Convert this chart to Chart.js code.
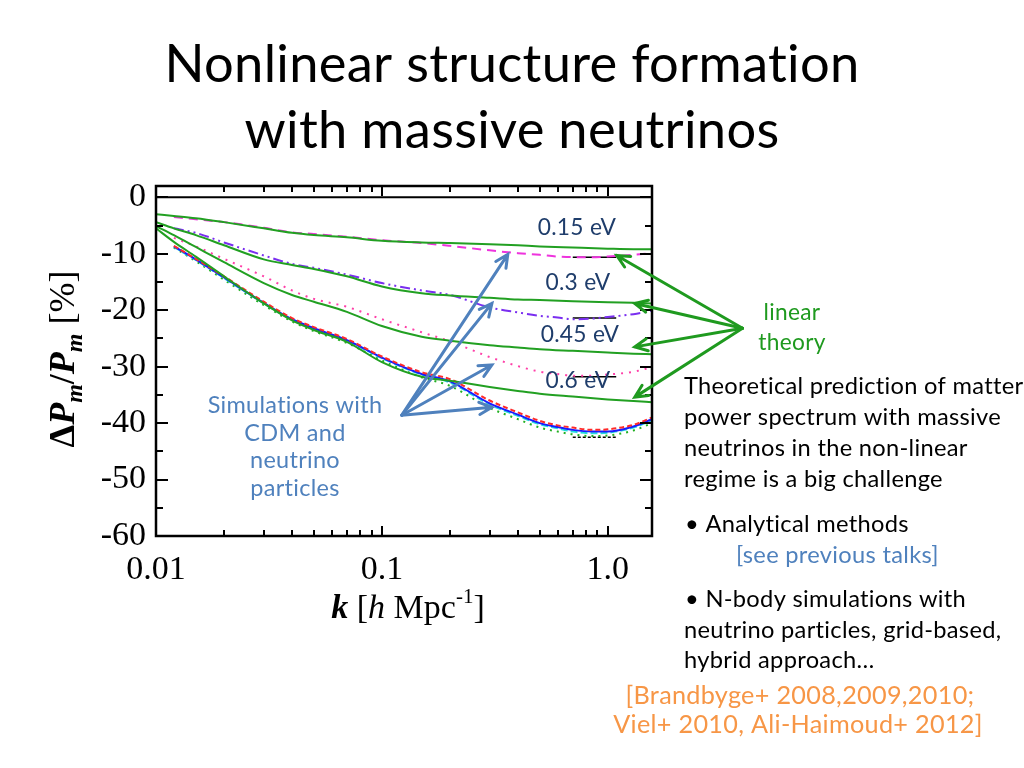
<!DOCTYPE html>
<html>
<head>
<meta charset="utf-8">
<title>Nonlinear structure formation with massive neutrinos</title>
<script src="https://cdn.jsdelivr.net/npm/chart.js"></script>
<style>
  html, body { margin: 0; padding: 0; background: #fff; }
  #c { display: block; }
</style>
</head>
<body>
<canvas id="c" width="1024" height="768"></canvas>
<script>
/* global Chart */

// k values for the linear theory curves
const kLin = [0.01, 0.012, 0.015, 0.02, 0.03, 0.04, 0.05, 0.07, 0.1, 0.15, 0.2, 0.3, 0.4, 0.5, 0.7, 1.0, 1.3, 1.57];
const lin015 = [-3.0, -3.3, -3.7, -4.4, -5.5, -6.3, -6.7, -7.1, -7.7, -8.0, -8.1, -8.3, -8.5, -8.7, -8.9, -9.1, -9.2, -9.2];
const lin03 = [-4.4, -5.5, -6.7, -8.5, -11.0, -12.0, -12.7, -14.0, -15.8, -17.0, -17.4, -17.8, -18.1, -18.2, -18.4, -18.6, -18.7, -18.8];
const lin045 = [-5.1, -6.7, -8.8, -11.5, -15.2, -17.3, -18.5, -20.3, -22.8, -24.7, -25.4, -26.2, -26.6, -26.9, -27.2, -27.5, -27.7, -27.8];
const lin06 = [-5.5, -7.9, -10.5, -14.0, -18.8, -21.8, -23.5, -25.6, -29.2, -31.8, -32.5, -33.6, -34.3, -34.8, -35.3, -35.8, -36.1, -36.3];

// k values for the simulations
const kSim = [0.012, 0.015, 0.02, 0.03, 0.04, 0.05, 0.07, 0.1, 0.15, 0.2, 0.3, 0.4, 0.5, 0.6, 0.7, 0.85, 1.0, 1.3, 1.57];
const sim015 = [-3.5, -3.9, -4.4, -5.4, -6.2, -6.5, -7.0, -7.6, -8.1, -8.6, -9.4, -9.9, -10.2, -10.5, -10.6, -10.6, -10.5, -10.2, -9.9];
const sim03 = [-5.5, -6.3, -8.0, -10.3, -11.8, -12.5, -13.7, -15.2, -16.5, -17.3, -19.5, -20.4, -21.0, -21.3, -21.6, -21.5, -21.2, -20.7, -20.1];
const sim045 = [-7.2, -8.7, -10.9, -14.0, -16.5, -18.0, -19.4, -21.6, -23.9, -25.5, -28.3, -29.9, -30.9, -31.3, -31.6, -31.6, -31.4, -30.9, -30.1];
const sim06Red = [-8.6, -10.9, -14.0, -18.5, -21.4, -23.0, -25.1, -28.2, -31.0, -32.2, -36.0, -38.1, -39.6, -40.4, -40.8, -41.2, -41.1, -40.3, -39.0];
const sim06Blue = [-8.7, -11.0, -14.2, -18.7, -21.6, -23.2, -25.3, -28.4, -31.3, -32.6, -36.5, -38.5, -40.0, -40.7, -41.2, -41.5, -41.5, -40.6, -39.3];
const sim06Cyan = [-8.8, -11.1, -14.3, -18.8, -21.7, -23.3, -25.4, -28.5, -31.4, -32.8, -36.7, -38.7, -40.2, -40.9, -41.5, -41.8, -41.7, -40.8, -39.5];
const sim06Green = [-8.9, -11.3, -14.6, -19.1, -22.0, -23.7, -25.8, -28.9, -31.9, -33.4, -37.3, -39.3, -40.8, -41.5, -42.0, -42.3, -42.2, -41.3, -40.0];

// short black reference marks near k ~ 1
const kSeg = [0.7, 1.09];
const segLevels = [-10.6, -21.4, -31.8, -42.5];

// ticks
const xTickValues = [0.01, 0.1, 1.0];
const xTickLabels = ['0.01', '0.1', '1.0'];
const xMinorTicks = [0.02, 0.03, 0.04, 0.05, 0.06, 0.07, 0.08, 0.09, 0.2, 0.3, 0.4, 0.5, 0.6, 0.7, 0.8, 0.9];
const yTickValues = [0, -10, -20, -30, -40, -50, -60];
const yTickLabels = ['0', '-10', '-20', '-30', '-40', '-50', '-60'];
const yMinorTicks = [-5, -15, -25, -35, -45, -55];

// annotation arrows, in data coordinates [k, value]
const simArrowFrom = [0.1225, -38.6];
const simArrowTo = [[0.361, -10.1], [0.307, -18.8], [0.307, -29.7], [0.307, -37.2]];
const linArrowFrom = [3.95, -23.2];
const linArrowTo = [[1.096, -10.3], [1.317, -18.8], [1.317, -26.5], [1.317, -35.4]];

const pts = (xs, ys) => ys.map((y, i) => ({ x: xs[i], y: y }));

const GREEN = '#22a022';
const SANS = 'Lato';
const SERIF = '"Liberation Serif"';

function line(label, xs, ys, color, dash, width) {
    return {
        label: label,
        data: pts(xs, ys),
        borderColor: color,
        borderWidth: width || 2,
        borderDash: dash || [],
        pointRadius: 0,
        fill: false,
        cubicInterpolationMode: 'monotone'
    };
}

const datasets = [
    line('linear 0.15 eV', kLin, lin015, GREEN),
    line('linear 0.3 eV', kLin, lin03, GREEN),
    line('linear 0.45 eV', kLin, lin045, GREEN),
    line('linear 0.6 eV', kLin, lin06, GREEN),
    line('sim 0.15 eV', kSim, sim015, '#ee33dd', [9, 6]),
    line('sim 0.3 eV', kSim, sim03, '#7a2ef0', [10, 4, 2, 4, 2, 4]),
    line('sim 0.45 eV', kSim, sim045, '#ff3fa8', [2, 6]),
    line('sim 0.6 eV red', kSim, sim06Red, '#ff2a2a', [5, 3]),
    line('sim 0.6 eV blue', kSim, sim06Blue, '#1a1aff'),
    line('sim 0.6 eV cyan', kSim, sim06Cyan, '#22dddd', [7, 3]),
    line('sim 0.6 eV green', kSim, sim06Green, '#22b022', [2, 5])
];
segLevels.forEach((v, i) => {
    datasets.push(line('ref ' + i, kSeg, [v, v], '#000', i === 3 ? [3, 2] : [], 1.5));
});

function fitSize(ctx, text, family, width, style) {
    ctx.font = (style || '') + ' 100px ' + family;
    return 100 * width / ctx.measureText(text).width;
}

function drawArrow(ctx, x1, y1, x2, y2, color) {
    const a = Math.atan2(y2 - y1, x2 - x1);
    const h = 14;
    ctx.strokeStyle = color;
    ctx.lineWidth = 3;
    ctx.lineCap = 'round';
    ctx.beginPath();
    ctx.moveTo(x1, y1);
    ctx.lineTo(x2, y2);
    ctx.moveTo(x2 - h * Math.cos(a - 0.45), y2 - h * Math.sin(a - 0.45));
    ctx.lineTo(x2, y2);
    ctx.lineTo(x2 - h * Math.cos(a + 0.45), y2 - h * Math.sin(a + 0.45));
    ctx.stroke();
}

// draws a run of text pieces with different fonts, starting at x
function drawRich(ctx, parts, x, y) {
    parts.forEach(p => {
        ctx.font = p.f;
        ctx.fillText(p.t, x, y + (p.dy || 0));
        x += ctx.measureText(p.t).width;
    });
    return x;
}
function richWidth(ctx, parts) {
    let w = 0;
    parts.forEach(p => { ctx.font = p.f; w += ctx.measureText(p.t).width; });
    return w;
}

// frame, inner ticks and zero line
const framePlugin = {
    id: 'frame',
    afterDatasetsDraw(chart) {
        const { ctx, chartArea: a, scales: { x, y } } = chart;
        ctx.save();
        ctx.strokeStyle = '#000';
        ctx.lineCap = 'butt';
        ctx.setLineDash([]);

        ctx.lineWidth = 2;
        const xt = (v, len) => {
            const px = Math.round(x.getPixelForValue(v));
            ctx.beginPath();
            ctx.moveTo(px, a.bottom); ctx.lineTo(px, a.bottom - len);
            ctx.moveTo(px, a.top); ctx.lineTo(px, a.top + len);
            ctx.stroke();
        };
        xTickValues.forEach(v => xt(v, 10));
        xMinorTicks.forEach(v => xt(v, 6));
        const yt = (v, len) => {
            const py = Math.round(y.getPixelForValue(v));
            ctx.beginPath();
            ctx.moveTo(a.left, py); ctx.lineTo(a.left + len, py);
            ctx.moveTo(a.right, py); ctx.lineTo(a.right - len, py);
            ctx.stroke();
        };
        yTickValues.forEach(v => yt(v, 12));
        yMinorTicks.forEach(v => yt(v, 7));

        const y0 = y.getPixelForValue(0);
        ctx.beginPath();
        ctx.moveTo(a.left, y0);
        ctx.lineTo(a.right, y0);
        ctx.stroke();

        ctx.lineWidth = 2.5;
        ctx.strokeRect(a.left, a.top, a.right - a.left, a.bottom - a.top);
        ctx.restore();
    },
    afterDraw(chart) {
        const { ctx, scales: { x, y } } = chart;
        const P = p => [x.getPixelForValue(p[0]), y.getPixelForValue(p[1])];
        ctx.save();
        // a tiny letter spacing keeps Lato from drawing the "ti" ligature
        ctx.letterSpacing = '0.3px';

        // arrows
        const s0 = P(simArrowFrom);
        simArrowTo.forEach(t => { const e = P(t); drawArrow(ctx, s0[0], s0[1], e[0], e[1], '#4f81bd'); });
        const l0 = P(linArrowFrom);
        linArrowTo.forEach(t => { const e = P(t); drawArrow(ctx, l0[0], l0[1], e[0], e[1], '#1f9a1f'); });

        ctx.textBaseline = 'alphabetic';
        const put = (t, px, py, size, color, align) => {
            ctx.font = size.toFixed(2) + 'px ' + SANS;
            ctx.fillStyle = color;
            ctx.textAlign = align;
            ctx.fillText(t, px, py);
        };

        // slide title
        const titleSize = fitSize(ctx, 'Nonlinear structure formation', SANS, 691);
        put('Nonlinear structure formation', 512, 82, titleSize, '#000', 'center');
        put('with massive neutrinos', 512, 148, titleSize, '#000', 'center');

        // curve labels
        const evSize = fitSize(ctx, '0.15 eV', SANS, 77);
        put('0.15 eV', 577, 235, evSize, '#1f3d6b', 'center');
        put('0.3 eV', 578, 290, evSize, '#1f3d6b', 'center');
        put('0.45 eV', 580, 342, evSize, '#1f3d6b', 'center');
        put('0.6 eV', 578, 388, evSize, '#1f3d6b', 'center');

        const simSize = fitSize(ctx, 'Simulations with', SANS, 171);
        ['Simulations with', 'CDM and', 'neutrino', 'particles'].forEach((t, i) => {
            put(t, 295, 413 + i * 27.5, simSize, '#4f81bd', 'center');
        });

        const linSize = fitSize(ctx, 'theory', SANS, 66);
        put('linear', 792, 320, linSize, '#1f9a1f', 'center');
        put('theory', 792, 350, linSize, '#1f9a1f', 'center');

        // side text
        const body = fitSize(ctx, 'Theoretical prediction of matter', SANS, 332);
        ['Theoretical prediction of matter', 'power spectrum with massive',
         'neutrinos in the non-linear', 'regime is a big challenge'].forEach((t, i) => {
            put(t, 684, 394 + i * 31, body, '#000', 'left');
        });
        put('\u2022 Analytical methods', 685, 532, body, '#000', 'left');
        put('[see previous talks]', 736, 563, body, '#4f81bd', 'left');
        put('\u2022 N-body simulations with', 685, 607, body, '#000', 'left');
        put('neutrino particles, grid-based,', 684, 638, body, '#000', 'left');
        put('hybrid approach\u2026', 684, 668, body, '#000', 'left');

        const refSize = fitSize(ctx, 'Viel+ 2010, Ali-Haimoud+ 2012]', SANS, 363);
        put('[Brandbyge+ 2008,2009,2010;', 800, 704, refSize, '#f79646', 'center');
        put('Viel+ 2010, Ali-Haimoud+ 2012]', 798, 733, refSize, '#f79646', 'center');

        // axis titles
        ctx.letterSpacing = '0px';
        ctx.fillStyle = '#000';
        ctx.textAlign = 'left';
        const xParts = [
            { t: 'k', f: 'bold italic 34px ' + SERIF },
            { t: ' [', f: '34px ' + SERIF },
            { t: 'h', f: 'italic 34px ' + SERIF },
            { t: ' Mpc', f: '34px ' + SERIF },
            { t: '-1', f: '21px ' + SERIF, dy: -15 },
            { t: ']', f: '34px ' + SERIF }
        ];
        drawRich(ctx, xParts, 408 - richWidth(ctx, xParts) / 2, 618);

        const yParts = [
            { t: '\u0394', f: 'bold 36px ' + SERIF },
            { t: 'P', f: 'bold italic 36px ' + SERIF },
            { t: 'm', f: 'bold italic 24px ' + SERIF, dy: 8 },
            { t: '/', f: 'bold 36px ' + SERIF },
            { t: 'P', f: 'bold italic 36px ' + SERIF },
            { t: 'm', f: 'bold italic 24px ' + SERIF, dy: 8 },
            { t: ' [%]', f: '36px ' + SERIF }
        ];
        ctx.translate(74, 359);
        ctx.rotate(-Math.PI / 2);
        drawRich(ctx, yParts, -richWidth(ctx, yParts) / 2, 0);

        ctx.restore();
    }
};

new Chart(document.getElementById('c').getContext('2d'), {
    type: 'line',
    data: { datasets: datasets },
    options: {
        responsive: false,
        animation: false,
        devicePixelRatio: 1,
        layout: { padding: { left: 0, right: 372, top: 186, bottom: 0 } },
        plugins: {
            legend: { display: false },
            tooltip: { enabled: false }
        },
        scales: {
            x: {
                type: 'logarithmic',
                min: 0.01,
                max: 1.57,
                grid: { display: false, drawTicks: false },
                border: { display: false },
                afterBuildTicks: s => { s.ticks = xTickValues.map(v => ({ value: v })); },
                afterFit: s => { s.height = 232; },
                ticks: {
                    autoSkip: false,
                    maxRotation: 0,
                    padding: 14,
                    color: '#000',
                    font: { family: 'Liberation Serif', size: 34 },
                    callback: (v, i) => xTickLabels[i]
                }
            },
            y: {
                min: -60,
                max: 2,
                grid: { display: false, drawTicks: false },
                border: { display: false },
                afterBuildTicks: s => { s.ticks = yTickValues.map(v => ({ value: v })); },
                afterFit: s => { s.width = 156; },
                ticks: {
                    padding: 10,
                    color: '#000',
                    font: { family: 'Liberation Serif', size: 34 },
                    callback: (v, i) => yTickLabels[i]
                }
            }
        }
    },
    plugins: [framePlugin]
});
</script>
</body>
</html>
